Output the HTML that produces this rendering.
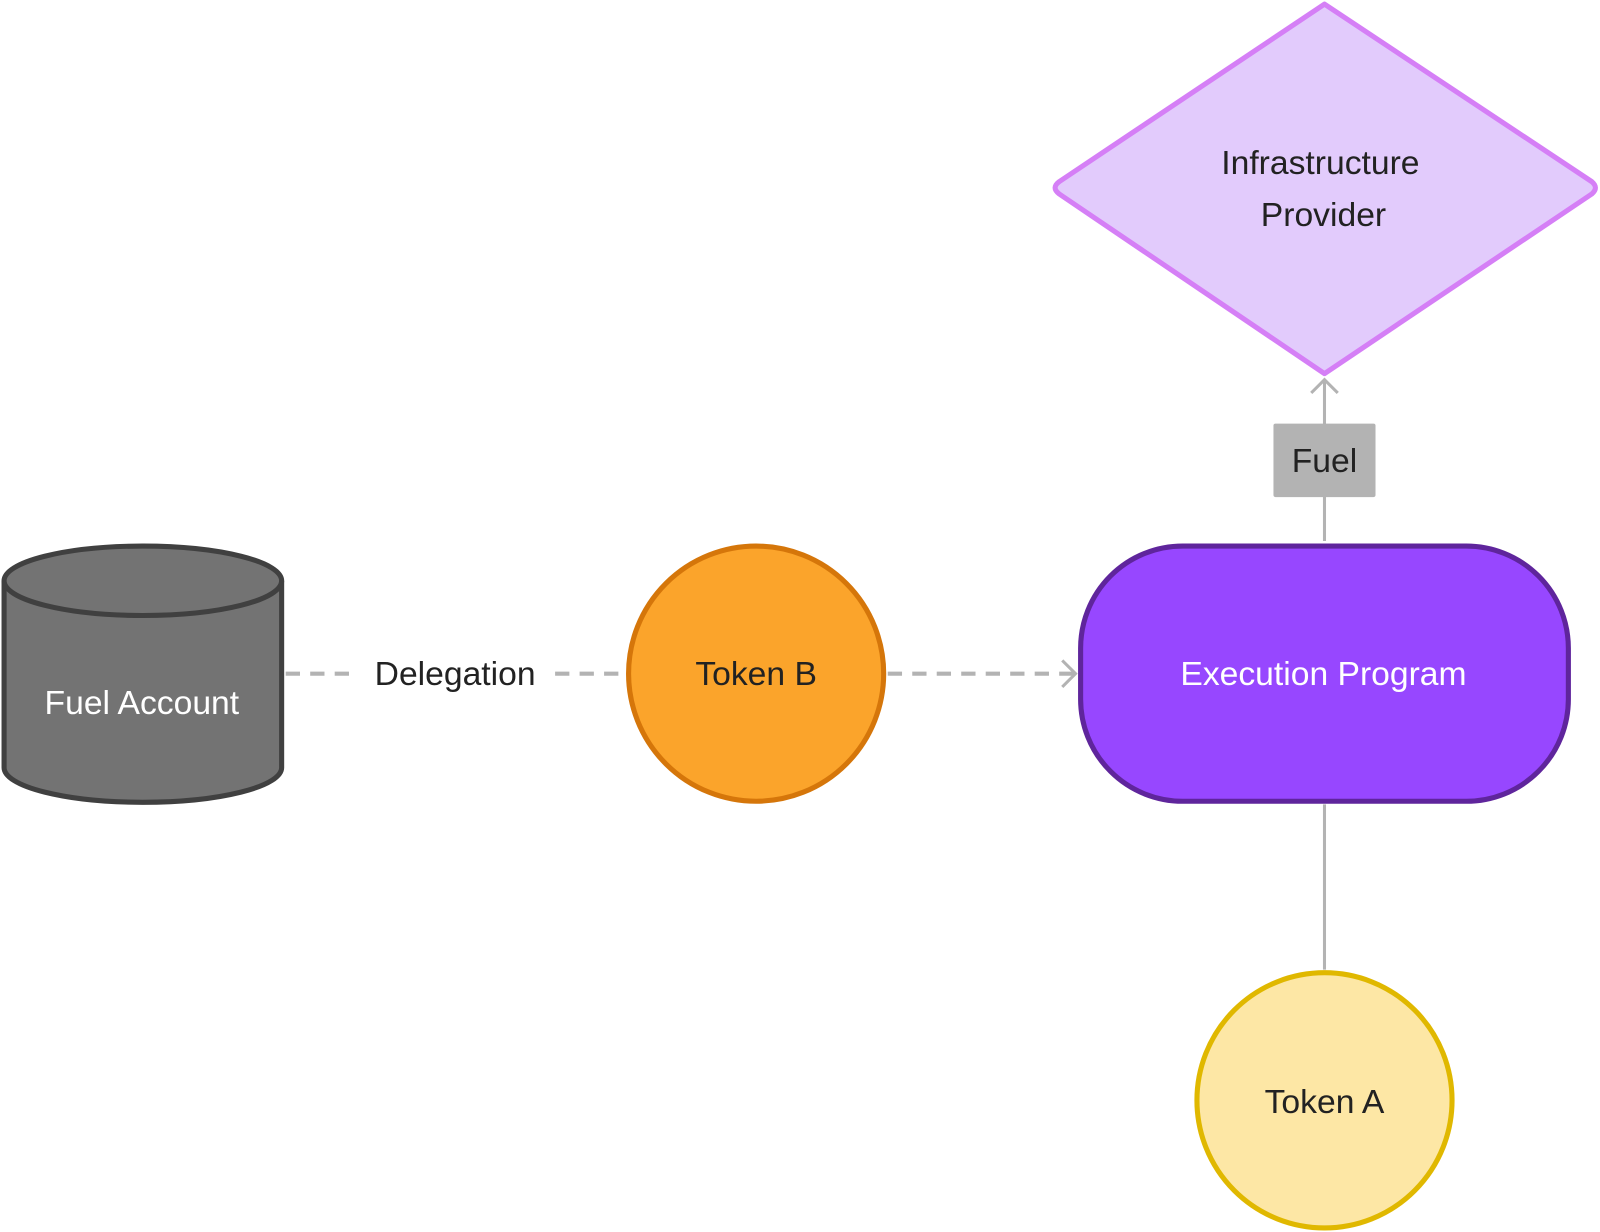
<!DOCTYPE html>
<html><head><meta charset="utf-8"><style>
html,body{margin:0;padding:0;background:#fff;}
svg{display:block;}
text{font-family:"Liberation Sans",Arial,sans-serif;font-size:33px;dominant-baseline:central;text-anchor:middle;}
</style></head><body>
<svg width="1600" height="1232" viewBox="0 0 1568 1207" preserveAspectRatio="none" xmlns="http://www.w3.org/2000/svg">
<line x1="1298" y1="530" x2="1298" y2="374" stroke="#b3b3b3" stroke-width="3"/>
<polyline points="1285,385 1298,372 1311,385" fill="none" stroke="#b3b3b3" stroke-width="3"/>
<rect x="1248" y="415" width="100" height="72" rx="2" fill="#b3b3b3"/>
<text x="1298" y="452" fill="#222">Fuel</text>
<line x1="1298" y1="788" x2="1298" y2="950" stroke="#b3b3b3" stroke-width="3"/>
<line x1="280" y1="660" x2="613" y2="660" stroke="#b3b3b3" stroke-width="4" stroke-dasharray="14,10"/>
<rect x="350" y="636" width="190" height="48" fill="#fff"/>
<text x="446" y="661" fill="#222">Delegation</text>
<line x1="870" y1="660" x2="1053" y2="660" stroke="#b3b3b3" stroke-width="4" stroke-dasharray="14,10"/>
<polyline points="1041,647 1054,660 1041,673" fill="none" stroke="#b3b3b3" stroke-width="3"/>
<path d="M1298,4 L1560,178 Q1567,184 1560,190 L1298,366 L1038,190 Q1030,184 1038,178 Z" fill="#e2cbfc" stroke="#d57ff6" stroke-width="5" stroke-linejoin="round"/>
<text x="1294" y="160" fill="#222">Infrastructure</text>
<text x="1297" y="211" fill="#222">Provider</text>
<rect x="1059" y="535" width="478" height="250" rx="100" fill="#9747ff" stroke="#5f259c" stroke-width="5"/>
<text x="1297" y="661" fill="#fff">Execution Program</text>
<circle cx="1298" cy="1078" r="125" fill="#fde7a5" stroke="#e0b800" stroke-width="5"/>
<text x="1298" y="1080" fill="#222">Token A</text>
<circle cx="741" cy="660" r="125" fill="#fba42b" stroke="#d5760a" stroke-width="5"/>
<text x="741" y="661" fill="#222">Token B</text>
<path d="M4,569 L4,752 A136,34 0 0 0 276,752 L276,569" fill="#737373" stroke="#404040" stroke-width="5"/>
<ellipse cx="140" cy="569" rx="136" ry="34" fill="#737373" stroke="#404040" stroke-width="5"/>
<text x="139" y="689" fill="#fff">Fuel Account</text>
</svg>
</body></html>
